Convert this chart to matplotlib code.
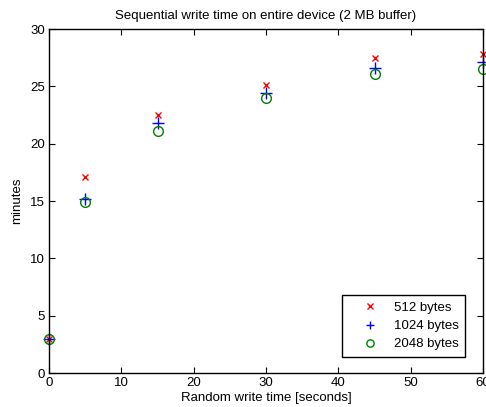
import numpy as np
import matplotlib.pyplot as plt

plt.rcParams['font.family'] = ['Liberation Sans', 'DejaVu Sans']

rand_time = [0, 5, 15, 30, 45, 60]
minutes_512 = [3.0, 17.1, 22.5, 25.1, 27.5, 27.8]
minutes_1024 = [3.0, 15.2, 21.8, 24.4, 26.6, 27.1]
minutes_2048 = [3.0, 14.9, 21.1, 24.0, 26.1, 26.5]

fig = plt.figure(figsize=(4.86, 4.07), dpi=100)
ax = fig.add_axes([49/486, 34/407, 434/486, 344/407])

ax.plot(rand_time, minutes_512, 'x', color='red', markersize=5, mew=1, label='512 bytes', clip_on=False)
ax.plot(rand_time, minutes_1024, '+', color='blue', markersize=8, mew=1, label='1024 bytes', clip_on=False)
ax.plot(rand_time, minutes_2048, 'o', mfc='none', mec='green', markersize=7, mew=1, label='2048 bytes', clip_on=False)

ax.set_xlim(0, 60)
ax.set_ylim(0, 30)
ax.set_xticks(np.arange(0, 61, 10))
ax.set_yticks(np.arange(0, 31, 5))
ax.tick_params(direction='in', top=True, right=True, labelsize=9.5, length=4, pad=3)
for s in ax.spines.values():
    s.set_linewidth(1)

ax.set_title('Sequential write time on entire device (2 MB buffer)', fontsize=9.5, pad=7)
ax.set_xlabel('Random write time [seconds]', fontsize=9.5, labelpad=2)
ax.set_ylabel('minutes', fontsize=9.5, labelpad=5)

leg = ax.legend(loc='lower right', fontsize=9.5, fancybox=False, edgecolor='black',
                framealpha=1, bbox_to_anchor=(0.9585, 0.0465), borderaxespad=0,
                handletextpad=0.2, labelspacing=0.45, markerscale=0.75,
                borderpad=0.5, handlelength=3.2)
leg.get_frame().set_linewidth(1)

fig.savefig('out.png', dpi=100)
